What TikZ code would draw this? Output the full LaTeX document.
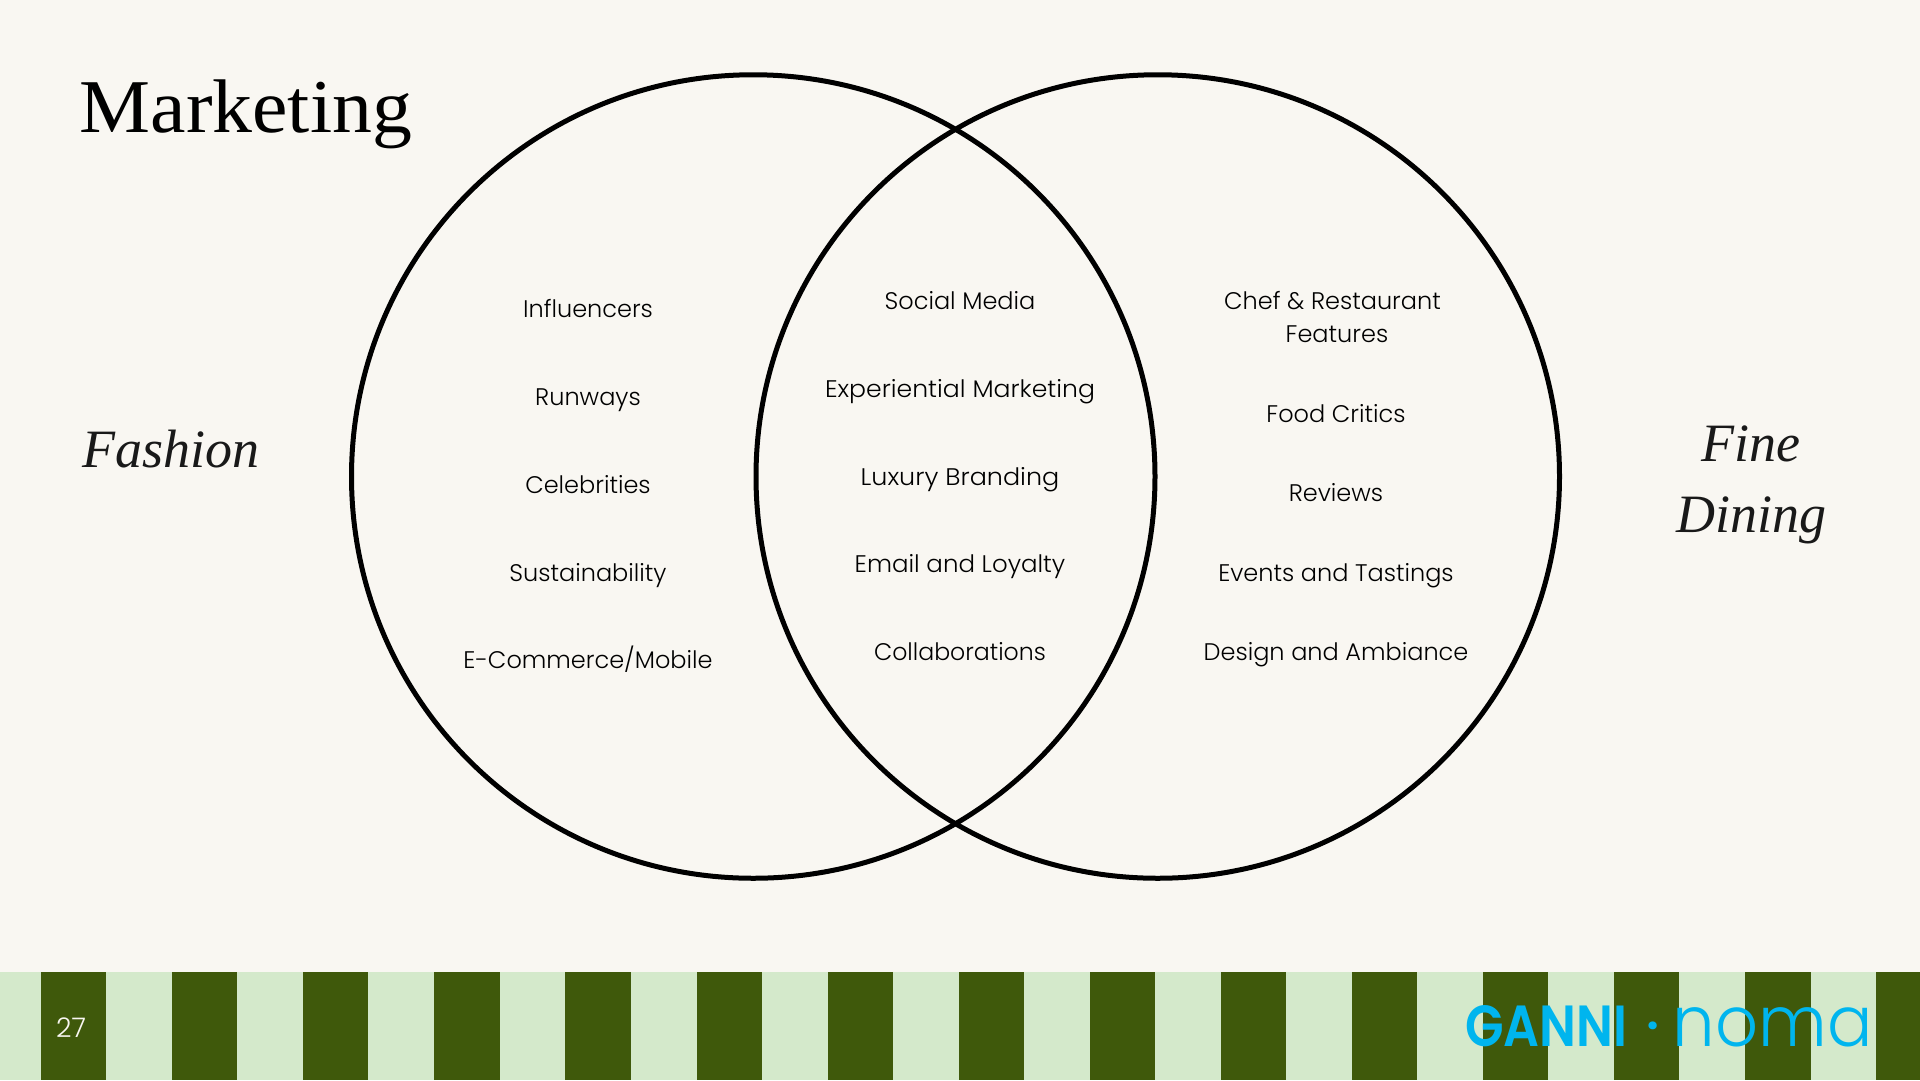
\documentclass[tikz,border=0pt]{standalone}
\usepackage{fontspec}
\setmainfont{Liberation Serif}
\newfontfamily\titlefont[FakeStretch=1.05]{Liberation Serif}
\newfontfamily\logofont{Poppins SemiBold}
\newfontfamily\thinfont{Poppins Light}
\definecolor{paper}{HTML}{F9F7F2}
\definecolor{dark}{HTML}{3F590B}
\definecolor{light}{HTML}{D4E9CB}
\definecolor{cyanlogo}{HTML}{00B5EE}
\tikzset{
  item/.style={font=\thinfont\fontsize{24}{33}\selectfont,text=black,align=center,inner sep=0pt,anchor=base},
  circ/.style={draw=black,line width=5pt,fill=none,circle,minimum size=803.5pt,inner sep=0pt},
  cat/.style={font=\itshape\fontsize{54}{71}\selectfont,text=black!90,align=center,inner sep=0pt},
  logo/.style={inner sep=0pt,text=cyanlogo}
}
\begin{document}
\begin{tikzpicture}[x=1pt,y=-1pt]
\useasboundingbox (0,0) rectangle (1920,1080);
\fill[paper] (0,0) rectangle (1920,1080);
\fill[light] (0,972) rectangle (1920,1080);
\foreach \i in {0,...,14}{
  \fill[dark] ({41+131.1*\i},972) rectangle ({41+131.1*\i+65.2},1080);
}
\node[circ] (left) at (753.25,476.5) {};
\node[circ] (right) at (1157.75,476.5) {};
\node[anchor=base west,inner sep=0pt,font=\titlefont\fontsize{76}{80}\selectfont] (title) at (79.5,132) {Marketing};
\node[cat] (fashion) at (171,449) {Fashion};
\node[cat] (fine) at (1751,485) {Fine\\Dining};
\node[item] (a1) at (588,317) {Influencers};
\node[item] (a2) at (588,405) {Runways};
\node[item] (a3) at (588,493) {Celebrities};
\node[item] (a4) at (588,581) {Sustainability};
\node[item] (a5) at (588,668.5) {E-Commerce/Mobile};
\node[item] (b1) at (960,309.5) {Social Media};
\node[item] (b2) at (960,397.5) {\scalebox{1.047}[1]{Experiential Marketing}};
\node[item] (b3) at (960,485) {\scalebox{1.06}[1]{Luxury Branding}};
\node[item] (b4) at (960,572) {\scalebox{1.02}[1]{Email and Loyalty}};
\node[item] (b5) at (960,660) {\scalebox{.985}[1]{Collaborations}};
\node[item,anchor=center] (c1) at (1337,317.5) {Chef \& Restaurant\kern9pt\\Features};
\node[item] (c2) at (1336,422.5) {Food Critics};
\node[item] (c3) at (1336,501) {Reviews};
\node[item] (c4) at (1336,581.5) {Events and Tastings};
\node[item] (c5) at (1336,660) {Design and Ambiance};
\node[anchor=base,inner sep=0pt,text=paper,font=\thinfont\fontsize{27}{30}\selectfont] (num) at (71,1037) {27};
\node[logo,anchor=base west,font=\logofont\fontsize{58}{60}\selectfont] (ganni) at (1465,1046) {\scalebox{.865}[1]{GANNI}};
\node[logo,anchor=base,font=\logofont\fontsize{48}{48}\selectfont] (dot) at (1653,1041) {·};
\node[logo,anchor=base west,font=\thinfont\fontsize{70}{76}\selectfont] (noma) at (1672.5,1046) {\scalebox{.96}[1]{noma}};
\end{tikzpicture}
\end{document}
